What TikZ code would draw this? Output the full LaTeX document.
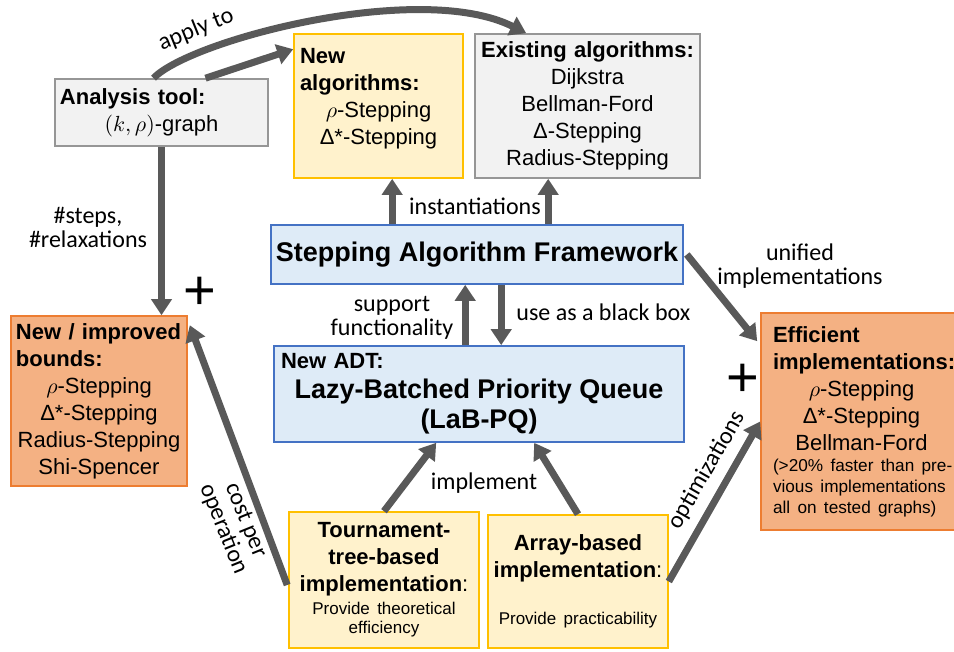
\documentclass[tikz,border=0pt]{standalone}
\usepackage{fontspec}
\setmainfont{Liberation Sans}
\newfontfamily\labelfont{Carlito}
\usepackage{tikz}
\usetikzlibrary{positioning,calc,arrows.meta}
\definecolor{boxgray}{RGB}{242,242,242}
\definecolor{edgegray}{RGB}{150,150,150}
\definecolor{lightyellow}{RGB}{255,242,204}
\definecolor{accentgold}{RGB}{255,192,0}
\definecolor{lightblue}{RGB}{222,235,247}
\definecolor{primaryblue}{RGB}{68,114,196}
\definecolor{lightorange}{RGB}{244,177,131}
\definecolor{accentorange}{RGB}{237,125,49}
\definecolor{arrowgray}{RGB}{89,89,89}
\newcommand{\boxhead}[1]{\makebox[\hsize][l]{\bfseries #1}}
\newcommand{\leftrow}[1]{\makebox[\hsize][l]{#1}}
\newcommand{\bigbold}{\fontsize{13.5}{15}\selectfont\bfseries}
\newcommand{\smalltext}{\fontsize{8.5}{9.5}\selectfont}
\newcommand{\notetext}{\fontsize{8.6}{10.5}\selectfont}

\begin{document}
\begin{tikzpicture}[
    x=0.5pt, y=-0.5pt,
    block/.style={rectangle, draw, line width=0.8pt, inner xsep=2.5pt, inner ysep=2pt, align=center, font=\fontsize{11}{13.5}\selectfont},
    graybox/.style={block, draw=edgegray, fill=boxgray},
    yellowbox/.style={block, draw=accentgold, fill=lightyellow},
    bluebox/.style={block, draw=primaryblue, fill=lightblue},
    orangebox/.style={block, draw=accentorange, fill=lightorange},
    arrow/.style={-{Triangle[length=8pt,width=10pt]}, line width=3.5pt, arrowgray},
    lbl/.style={font=\labelfont\fontsize{12}{12}\selectfont, align=center, inner sep=1pt},
    plus/.style={font=\fontsize{28}{28}\selectfont, inner sep=0pt}
]
\useasboundingbox (0,0) rectangle (954,652);

% Top row
\node[graybox, text width=101.5pt, minimum height=33.5pt] (tool) at (161.5,112.5) {\boxhead{Analysis tool:}\\$(k,\rho)$-graph};
\node[yellowbox, inner xsep=3pt, text width=78.5pt, minimum height=72pt] (newalg) at (378.5,106) {\boxhead{New}\\\boxhead{algorithms:}\\$\rho$-Stepping\\Δ*-Stepping\rule[-10pt]{0pt}{0pt}};
\node[graybox, text width=107.5pt, minimum height=72pt] (existing) at (587.5,106) {\textbf{Existing algorithms:}\\Dijkstra\\Bellman-Ford\\Δ-Stepping\\Radius-Stepping};

% Framework and ADT
\node[bluebox, minimum width=204pt, minimum height=29.5pt, font=\bigbold] (framework) at (477,254.5) {Stepping Algorithm Framework};
\node[bluebox, inner xsep=3.5pt, text width=198pt, minimum height=48pt] (labpq) at (479,394) {\boxhead{New ADT:}\\\bigbold Lazy-Batched Priority Queue\\(LaB-PQ)\par};

% Results
\node[orangebox, text width=83pt, minimum height=85pt] (bounds) at (99,401) {\boxhead{New / improved}\\\boxhead{bounds:}\\$\rho$-Stepping\\Δ*-Stepping\\Radius-Stepping\\Shi-Spencer};
\node[orangebox, inner xsep=6pt, text width=88.5pt, minimum height=108.5pt] (efficient) at (861.5,421.5) {\boxhead{Efficient}\\\boxhead{implementations:}\\$\rho$-Stepping\\Δ*-Stepping\\Bellman-Ford\\\notetext\leftrow{(>20\% faster than pre-}\\\leftrow{vious implementations}\\\leftrow{all on tested graphs)}\par};

% Implementations
\node[yellowbox, text width=90pt, minimum height=68pt] (tour) at (384,580) {\textbf{Tournament-}\\\textbf{tree-based}\\\textbf{implementation}:\\[2pt]\smalltext Provide theoretical\\efficiency\par};
\node[yellowbox, text width=85pt, minimum height=66.5pt] (array) at (578,581.5) {\textbf{Array-based}\\\textbf{implementation}:\\[14pt]\smalltext Provide practicability\par};

% Plus signs
\node[plus] (plusA) at (200,293) {+};
\node[plus] (plusB) at (743,380) {+};

% Arrows
\draw[arrow] ($(tool.north)+(44,0)$) -- ($(newalg.north west)+(0,16)$);
\draw[arrow] ($(tool.north)+(-8,0)$) .. controls (190,40) and (420,-20) .. ($(existing.north west)+(52,0)$);
\draw[arrow] (tool.south) -- (tool.south |- bounds.north);
\coordinate (instA) at ($(framework.north west)+(122,0)$);
\coordinate (instB) at ($(framework.north west)+(278,0)$);
\draw[arrow] (instA) -- (instA |- newalg.south);
\draw[arrow] (instB) -- (instB |- existing.south);
\coordinate (supportA) at ($(labpq.north west)+(192,0)$);
\coordinate (supportB) at ($(labpq.north west)+(228,0)$);
\draw[arrow] (supportA) -- (supportA |- framework.south);
\draw[arrow] (supportB |- framework.south) -- (supportB);
\draw[arrow] ($(framework.east)+(3,0)$) -- ($(efficient.north west)+(-3,29)$);
\draw[arrow] (tour.north) -- ($(labpq.south west)+(163,0)$);
\draw[arrow] (array.north) -- ($(labpq.south west)+(261,0)$);
\draw[arrow] ($(tour.west)+(-1,5)$) -- ($(bounds.north east)+(2,10)$);
\draw[arrow] (array.east) -- (efficient.west);

% Labels
\node[lbl, rotate=22] (applyto) at (196,30) {apply to};
\node[lbl] (steps) at (88,227) {\#steps,\\\#relaxations};
\node[lbl] (inst) at (475,206) {instantiations};
\node[lbl] (support) at (392,318) {support\\functionality};
\node[lbl, anchor=west] (blackbox) at (514,312) {use as a black box};
\node[lbl] (unified) at (800,266) {unified\\implementations};
\node[lbl] (implement) at (484,483) {implement};
\node[lbl, rotate=-68] (costper) at (234,525) {cost per\\operation};
\node[lbl, rotate=60] (optim) at (707,470) {optimizations};

\end{tikzpicture}
\end{document}
